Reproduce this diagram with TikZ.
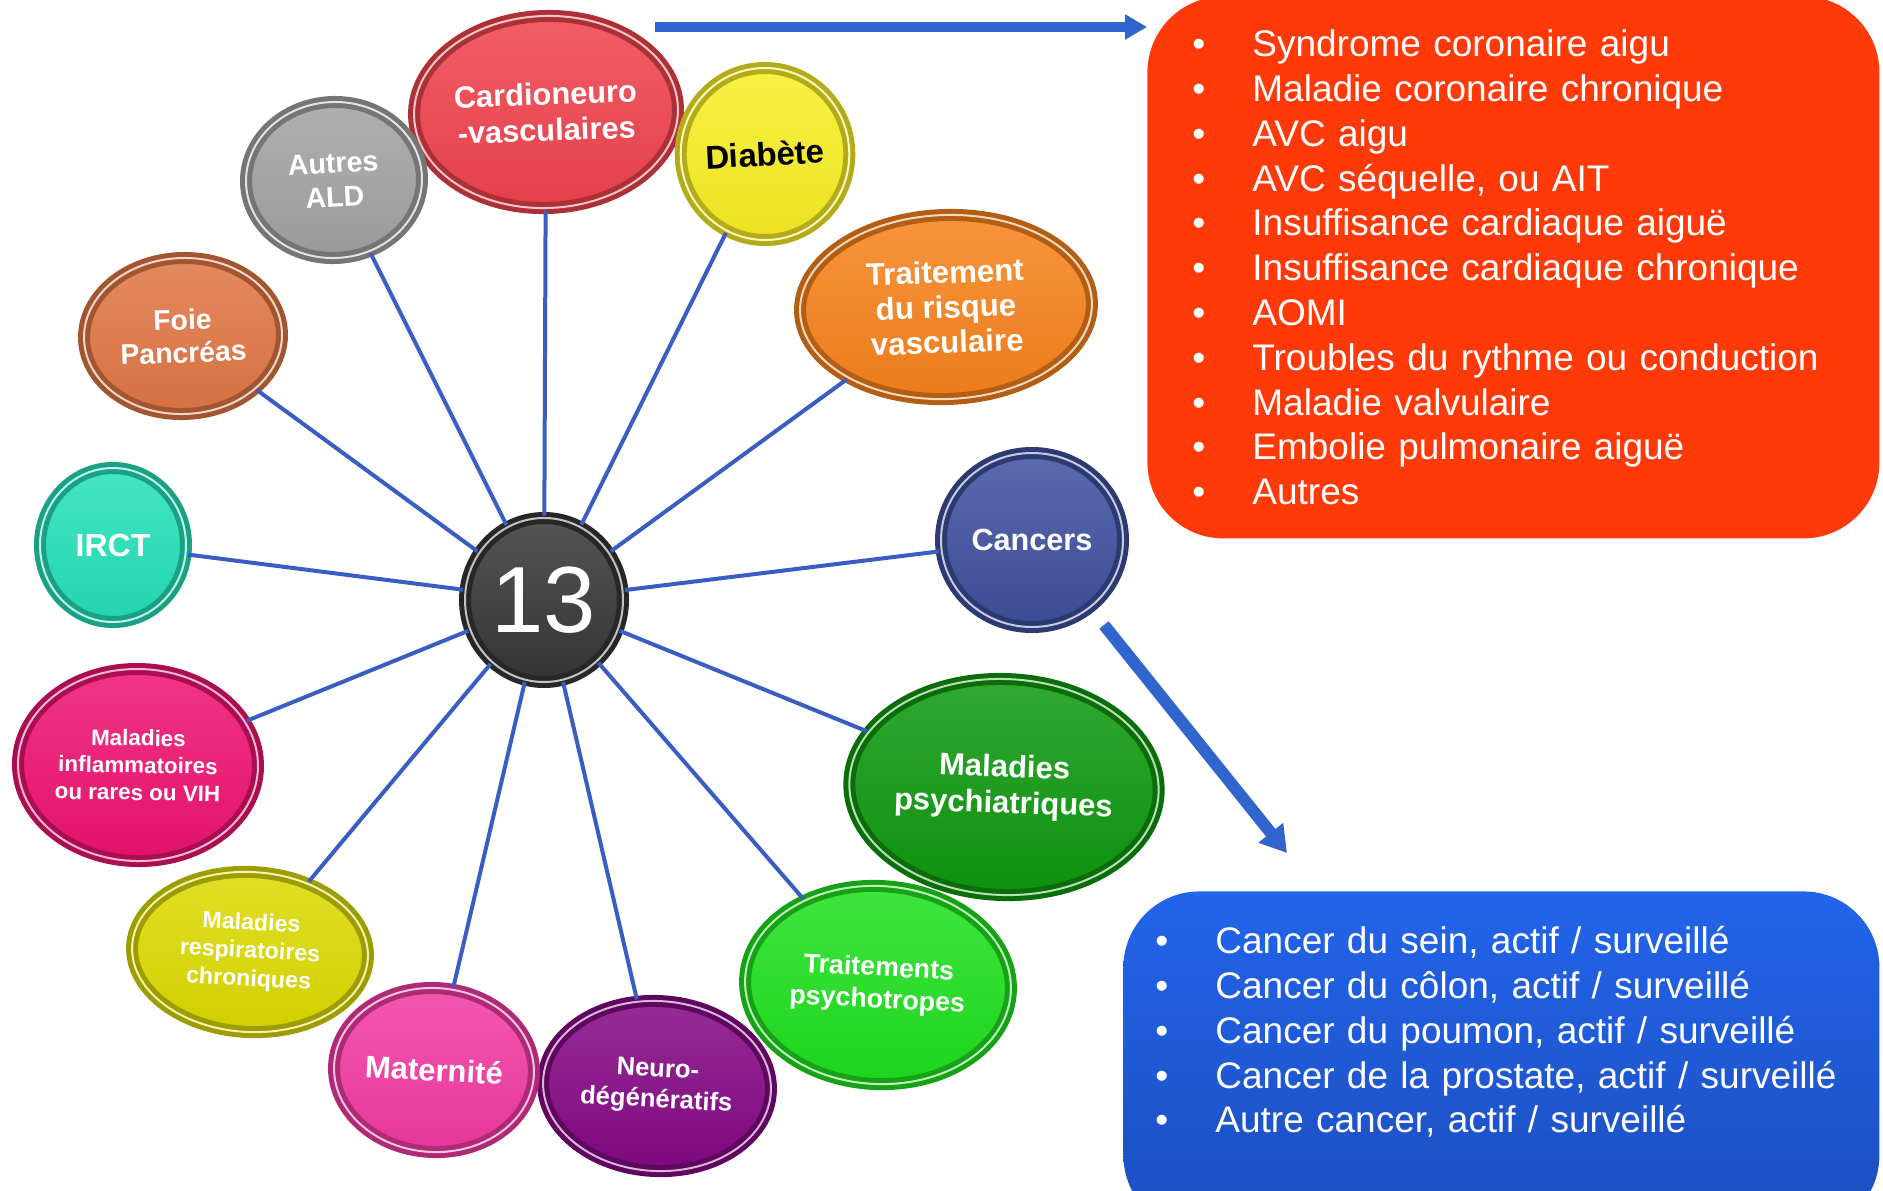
\documentclass[tikz,border=0pt]{standalone}
\usepackage{fontspec}
\setmainfont{Liberation Sans}
\usetikzlibrary{arrows.meta,shapes.geometric,shadows,positioning}

\definecolor{cardio}{RGB}{240,66,76}
\definecolor{diabc}{RGB}{248,238,36}
\definecolor{risquec}{RGB}{247,130,28}
\definecolor{cancerc}{RGB}{62,80,158}
\definecolor{psyc}{RGB}{14,152,14}
\definecolor{psytrc}{RGB}{30,224,30}
\definecolor{neuroc}{RGB}{132,8,132}
\definecolor{matc}{RGB}{242,58,162}
\definecolor{respic}{RGB}{220,218,0}
\definecolor{inflamc}{RGB}{238,18,112}
\definecolor{irctc}{RGB}{36,224,184}
\definecolor{foiec}{RGB}{224,118,68}
\definecolor{autresc}{RGB}{162,162,162}
\definecolor{centrec}{RGB}{54,54,54}
\definecolor{spoke}{RGB}{58,93,196}
\definecolor{fleche}{RGB}{50,100,205}
\definecolor{cvred}{RGB}{255,58,8}
\definecolor{cantop}{RGB}{34,100,235}
\definecolor{canbot}{RGB}{28,78,190}

\newcommand{\puce}{\makebox[30pt][l]{•}}

\begin{document}
\begin{tikzpicture}[
  x=0.5pt, y=-0.5pt,
  btn/.style={ellipse, inner sep=0pt, align=center, text=white,
    draw=#1!72!black, line width=2.5pt, double=#1!30!white, double distance=1pt,
    top color=#1!85!white, bottom color=#1!95!black,
    drop shadow={opacity=0.3, shadow xshift=2pt, shadow yshift=-2pt}},
  spokeline/.style={draw=spoke, line width=2pt},
  bigarrow/.style={draw=fleche},
  listbox/.style={rounded corners=38pt, text=white, align=left, inner sep=0pt,
    font=\fontsize{18.5}{22.4}\selectfont},
]
  \useasboundingbox (0,0) rectangle (1883,1190);

  \node[btn=cardio, minimum width=132pt, minimum height=96pt, rotate=2,
    font=\bfseries\fontsize{15.4}{18}\selectfont] (cv) at (546,112) {Cardioneuro\\-vasculaires};
  \node[btn=diabc, text=black, minimum width=84pt, minimum height=86pt, rotate=3,
    font=\bfseries\fontsize{16.5}{18}\selectfont] (diab) at (765,154) {Diabète};
  \node[btn=risquec, minimum width=146pt, minimum height=92pt, rotate=2,
    font=\bfseries\fontsize{15.6}{17.5}\selectfont] (risque) at (946,307) {Traitement\\du risque\\vasculaire};
  \node[btn=cancerc, minimum width=91pt, minimum height=87pt,
    font=\bfseries\fontsize{15.3}{17}\selectfont] (cancers) at (1032,540) {Cancers};
  \node[btn=psyc, minimum width=152pt, minimum height=108pt, rotate=-2,
    font=\bfseries\fontsize{15.5}{18}\selectfont] (psy) at (1004,787) {Maladies\\psychiatriques};
  \node[btn=psytrc, minimum width=133pt, minimum height=99pt, rotate=-3,
    font=\bfseries\fontsize{13.4}{16}\selectfont] (psytr) at (878,985) {Traitements\\psychotropes};
  \node[btn=neuroc, minimum width=114pt, minimum height=85pt, rotate=-3,
    font=\bfseries\fontsize{12.8}{15.5}\selectfont] (neuro) at (657,1086) {Neuro-\\dégénératifs};
  \node[btn=matc, minimum width=100pt, minimum height=82pt, rotate=-3,
    font=\bfseries\fontsize{15.5}{16}\selectfont] (mat) at (434,1070) {Maternité};
  \node[btn=respic, minimum width=118pt, minimum height=80pt, rotate=-3,
    font=\bfseries\fontsize{11.6}{14}\selectfont] (respi) at (250,952) {Maladies\\respiratoires\\chroniques};
  \node[btn=inflamc, minimum width=120pt, minimum height=96pt, rotate=-1,
    font=\bfseries\fontsize{11.2}{13.6}\selectfont] (inflam) at (138,765) {Maladies\\inflammatoires\\ou rares ou VIH};
  \node[btn=irctc, minimum width=73pt, minimum height=77pt,
    font=\bfseries\fontsize{16}{16}\selectfont] (irct) at (113,545) {IRCT};
  \node[btn=foiec, minimum width=99pt, minimum height=78pt, rotate=2,
    font=\bfseries\fontsize{14.2}{16.5}\selectfont] (foie) at (183,336) {Foie\\Pancréas};
  \node[btn=autresc, minimum width=88pt, minimum height=78pt, rotate=3,
    font=\bfseries\fontsize{14.3}{17}\selectfont] (autres) at (334,180) {Autres\\ALD};
  \node[btn=centrec, minimum width=79pt, minimum height=82pt,
    font=\fontsize{47}{47}\selectfont] (c13) at (544,600) {13};

  \foreach \n in {cv,diab,risque,cancers,psy,psytr,neuro,mat,respi,inflam,irct,foie,autres}
    \draw[spokeline] (c13) -- (\n);

  \node[listbox, fill=cvred, anchor=north west, minimum width=366pt, minimum height=271pt,
    text width=321pt, inner xsep=22.5pt] (cvlist) at (1147,-4) {%
    \puce Syndrome coronaire aigu\\
    \puce Maladie coronaire chronique\\
    \puce AVC aigu\\
    \puce AVC séquelle, ou AIT\\
    \puce Insuffisance cardiaque aiguë\\
    \puce Insuffisance cardiaque chronique\\
    \puce AOMI\\
    \puce Troubles du rythme ou conduction\\
    \puce Maladie valvulaire\\
    \puce Embolie pulmonaire aiguë\\
    \puce Autres};

  \node[listbox, top color=cantop, bottom color=canbot, anchor=north west,
    minimum width=378pt, minimum height=170pt] (cancerbox) at (1123,891) {};
  \node[listbox, anchor=north west, text width=350pt] (cancerlist) at (1155,926) {%
    \puce Cancer du sein, actif / surveillé\\
    \puce Cancer du côlon, actif / surveillé\\
    \puce Cancer du poumon, actif / surveillé\\
    \puce Cancer de la prostate, actif / surveillé\\
    \puce Autre cancer, actif / surveillé};

  \coordinate (a1) at (655,27);
  \draw[bigarrow, line width=5pt, -{Triangle[length=11pt,width=12pt]}] (a1) -- (cvlist.west |- a1);
  \coordinate (a2) at (1104,625);
  \coordinate (a2e) at (1287,853);
  \draw[bigarrow, line width=6pt, -{Triangle[length=13pt,width=15pt]}] (a2) -- (a2e);
\end{tikzpicture}
\end{document}
